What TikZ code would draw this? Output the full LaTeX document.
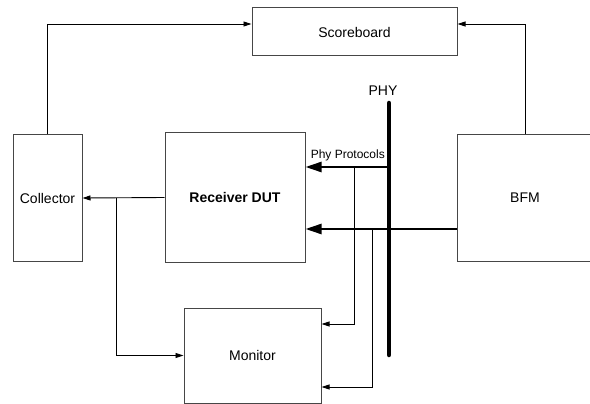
\documentclass[tikz,border=0pt]{standalone}
\usepackage{fontspec}
\setmainfont{Liberation Sans}
\usepackage{tikz}
\usetikzlibrary{arrows.meta, positioning, calc}
\definecolor{boxline}{RGB}{70, 70, 70}
\tikzset{
  block/.style={draw=boxline, line width=1pt, inner sep=0pt, font=\fontsize{14}{16}\selectfont},
  sig/.style={line width=0.9pt, -{Triangle[length=8pt, width=5pt]}},
  busarrow/.style={line width=2.4pt, -{Triangle[length=16pt, width=10pt]}},
  wire/.style={line width=0.9pt}
}
\begin{document}
\begin{tikzpicture}[x=1pt, y=-1pt]
    \useasboundingbox (0,0) rectangle (590,404);
    \node[block, minimum width=205pt, minimum height=48pt] (score) at (354.5,32) {Scoreboard};
    \node[block, minimum width=69pt, minimum height=126pt] (coll) at (47.5,198) {Collector};
    \node[block, minimum width=140pt, minimum height=129pt] (dut) at (235,197.5) {\textbf{Receiver DUT}};
    \node[block, minimum width=137pt, minimum height=95pt] (mon) at (252.5,355.5) {Monitor};
    \node[block, minimum width=136pt, minimum height=126pt] (bfm) at (525,198) {BFM};

    \coordinate (phytop) at (389,103);
    \coordinate (phybot) at (389,355);
    \draw[line width=4.5pt, line cap=round] (phytop) -- (phybot);
    \node[font=\fontsize{14}{16}\selectfont, above=4pt of phytop, xshift=-6pt] (phylabel) {PHY};

    \coordinate (tap) at (116,198);
    \coordinate (phyA) at (389,167);
    \coordinate (bfmA) at ([yshift=-31pt]bfm.west);
    \coordinate (tapA) at (354,167);
    \coordinate (tapB) at (372,229);

    \draw[sig] (coll.north) |- ([yshift=8pt]score.west);
    \draw[sig] (bfm.north) |- ([yshift=8pt]score.east);
    \draw[sig] (dut.west) -- (coll.east);
    \draw[sig] (tap) |- (mon.west);

    \draw[busarrow] (phyA) -- (phyA -| dut.east);
    \node[font=\fontsize{12}{14}\selectfont, anchor=south east, inner sep=1pt] (protlabel) at ([yshift=5pt, xshift=-3pt]phyA) {Phy Protocols};
    \draw[busarrow] (bfmA) -- (bfmA -| dut.east);

    \draw[sig] (tapA) |- ([yshift=31.5pt]mon.east);
    \draw[sig] (tapB) |- ([yshift=-31.5pt]mon.east);
\end{tikzpicture}
\end{document}
